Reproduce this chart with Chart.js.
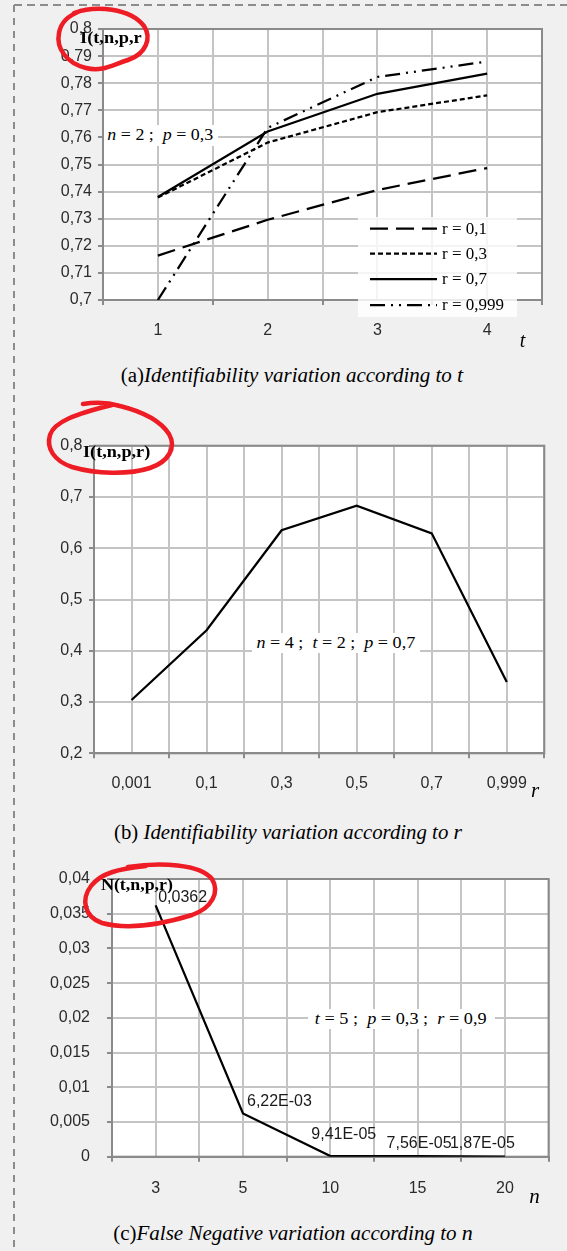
<!DOCTYPE html>
<html>
<head>
<meta charset="utf-8">
<script src="https://cdn.jsdelivr.net/npm/chart.js@4.4.1/dist/chart.umd.min.js"></script>
<style>
  html, body { margin: 0; padding: 0; background: #f0f0f0; }
  body { width: 567px; height: 1251px; position: relative; overflow: hidden; }
  .box { position: absolute; left: 0; width: 567px; }
  .txt { position: absolute; white-space: nowrap; line-height: 1; color: #000; }
  .serif { font-family: "Liberation Serif", "Times New Roman", serif; }
  #overlay { position: absolute; left: 0; top: 0; pointer-events: none; }
</style>
</head>
<body>
<div class="box" id="boxA" style="top:0px;height:360px"><canvas id="chartA"></canvas></div>
<div class="box" id="boxB" style="top:400px;height:400px"><canvas id="chartB"></canvas></div>
<div class="box" id="boxC" style="top:850px;height:370px"><canvas id="chartC"></canvas></div>

<script>
// ---------------- DATA ----------------
// (a) Identifiability vs t  (n = 2 ; p = 0,3)
const tValues = [1, 2, 3, 4];
const seriesLabelsA = ['r = 0,1', 'r = 0,3', 'r = 0,7', 'r = 0,999'];
const identR01  = [0.7164, 0.7296, 0.7406, 0.7487];
const identR03  = [0.7378, 0.7581, 0.7693, 0.7755];
const identR07  = [0.7380, 0.7622, 0.7761, 0.7835];
const identR999 = [0.7000, 0.7635, 0.7823, 0.7880];
const yTicksA = { min: 0.7, max: 0.8, step: 0.01 };

// (b) Identifiability vs r  (n = 4 ; t = 2 ; p = 0,7)
const rCategories = ['0,001', '0,1', '0,3', '0,5', '0,7', '0,999'];
const identByR = [0.304, 0.440, 0.635, 0.683, 0.629, 0.339];
const yTicksB = { min: 0.2, max: 0.8, step: 0.1 };

// (c) False negative vs n  (t = 5 ; p = 0,3 ; r = 0,9)
const nCategories = ['3', '5', '10', '15', '20'];
const falseNeg = [0.0362, 0.00622, 0.0000941, 0.0000756, 0.0000187];
const falseNegLabels = ['0,0362', '6,22E-03', '9,41E-05', '7,56E-05', '1,87E-05'];
const yTicksC = { min: 0, max: 0.04, step: 0.005 };

// ---------------- HELPERS ----------------
const fmt = v => String(Number(v.toFixed(4))).replace('.', ',');
const GRID = '#c4c4c4';
const AXIS = '#8a8a8a';
const TICKFONT = { family: '"Liberation Sans", Arial, sans-serif', size: 16 };

const framePlugin = {
  id: 'frame',
  beforeDraw(chart) {
    const a = chart.chartArea, c = chart.ctx;
    c.save(); c.fillStyle = '#fff'; c.fillRect(a.left, a.top, a.right - a.left, a.bottom - a.top); c.restore();
  },
  beforeDatasetsDraw(chart) {
    const a = chart.chartArea, c = chart.ctx;
    c.save(); c.strokeStyle = AXIS; c.lineWidth = 2;
    c.strokeRect(a.left, a.top, a.right - a.left, a.bottom - a.top); c.restore();
  }
};

const legendPlugin = {
  id: 'inLegend',
  afterDraw(chart, args, o) {
    if (!o || !o.box) return;
    const c = chart.ctx;
    c.save();
    c.fillStyle = 'rgba(255,255,255,0.82)';
    c.fillRect(o.box[0], o.box[1], o.box[2], o.box[3]);
    chart.data.datasets.forEach((ds, i) => {
      const y = o.rows[i];
      c.strokeStyle = '#000'; c.lineWidth = 2.25;
      c.setLineDash(ds.borderDash || []);
      c.beginPath(); c.moveTo(o.x0, y); c.lineTo(o.x1, y); c.stroke();
      c.setLineDash([]);
      c.fillStyle = '#000';
      c.font = '17px "Liberation Serif", "Times New Roman", serif';
      c.textBaseline = 'middle'; c.textAlign = 'left';
      c.fillText(ds.label, o.tx, y + 1);
    });
    c.restore();
  }
};

const dataLabelPlugin = {
  id: 'ptLabels',
  afterDatasetsDraw(chart, args, o) {
    if (!o || !o.texts) return;
    const meta = chart.getDatasetMeta(0), c = chart.ctx;
    c.save();
    c.font = '16px "Liberation Sans", Arial, sans-serif';
    c.fillStyle = '#1a1a1a'; c.textBaseline = 'middle'; c.textAlign = 'left';
    meta.data.forEach((pt, i) => {
      const off = o.offsets[i];
      c.fillText(o.texts[i], pt.x + off[0], pt.y + off[1]);
    });
    c.restore();
  }
};

function makeChart(id, cfg) {
  return new Chart(document.getElementById(id), {
    type: 'line',
    data: { datasets: cfg.datasets },
    plugins: [framePlugin, legendPlugin, dataLabelPlugin],
    options: {
      responsive: true, maintainAspectRatio: false, animation: false,
      layout: { padding: cfg.padding },
      plugins: {
        legend: { display: false }, tooltip: { enabled: false },
        inLegend: cfg.legend || {}, ptLabels: cfg.ptLabels || {}
      },
      elements: { point: { radius: 0 }, line: { tension: 0, borderWidth: 2.25, borderColor: '#000' } },
      scales: {
        x: {
          type: 'linear', min: cfg.xMin, max: cfg.xMax,
          afterFit: s => { s.height = cfg.xHeight; },
          border: { color: AXIS, width: 2 },
          grid: {
            color: GRID, lineWidth: 2, tickLength: 5,
            tickColor: ctx => (ctx.tick && !Number.isInteger(ctx.tick.value)) ? AXIS : 'rgba(0,0,0,0)',
            tickWidth: 2
          },
          ticks: {
            stepSize: 0.5, autoSkip: false, maxRotation: 0, color: '#2b2b2b', font: TICKFONT,
            padding: cfg.xPad,
            callback: v => Number.isInteger(v) ? cfg.xLabels[v - 1] : ''
          }
        },
        y: {
          type: 'linear', min: cfg.y.min, max: cfg.y.max,
          afterFit: s => { s.width = cfg.yWidth; },
          border: { color: AXIS, width: 2 },
          grid: { color: GRID, lineWidth: 2, tickLength: 5, tickColor: AXIS, tickWidth: 2 },
          ticks: { stepSize: cfg.y.step, color: '#2b2b2b', font: TICKFONT, padding: cfg.yPad, callback: v => fmt(v) }
        }
      }
    }
  });
}

// ---------------- CHART A ----------------
const dashA = [[18, 8], [5, 3], [], [15, 6, 2, 6, 2, 6]];
const seriesA = [identR01, identR03, identR07, identR999];
makeChart('chartA', {
  padding: { left: 0, right: 25, top: 29, bottom: 0 },
  xMin: 0.5, xMax: 4.5, xHeight: 60, yWidth: 103, xPad: 15.5, yPad: 6,
  xLabels: tValues.map(String), y: yTicksA,
  datasets: seriesA.map((vals, i) => ({
    label: seriesLabelsA[i],
    data: vals.map((v, j) => ({ x: tValues[j], y: v })),
    borderDash: dashA[i], borderColor: '#000', borderWidth: 2.25, fill: false
  })),
  legend: { box: [358, 217, 159, 100], x0: 370, x1: 437, tx: 442, rows: [228.5, 253.5, 279, 305] }
});

// ---------------- CHART B ----------------
makeChart('chartB', {
  padding: { left: 0, right: 22.7, top: 45.7, bottom: 0 },
  xMin: 0.5, xMax: rCategories.length + 0.5, xHeight: 46.7, yWidth: 94, xPad: 15.5, yPad: 6.5,
  xLabels: rCategories, y: yTicksB,
  datasets: [{ label: 'I', data: identByR.map((v, i) => ({ x: i + 1, y: v })), borderColor: '#000', borderWidth: 2.25 }]
});

// ---------------- CHART C ----------------
makeChart('chartC', {
  padding: { left: 0, right: 18.4, top: 29, bottom: 0 },
  xMin: 0.5, xMax: nCategories.length + 0.5, xHeight: 63.3, yWidth: 112, xPad: 17, yPad: 17,
  xLabels: nCategories, y: yTicksC,
  datasets: [{ label: 'N', data: falseNeg.map((v, i) => ({ x: i + 1, y: v })), borderColor: '#000', borderWidth: 2.25 }],
  ptLabels: { texts: falseNegLabels, offsets: [[2.5, -8], [4, -12], [-19, -21], [-31, -13], [-55, -13]] }
});

// ---------------- TEXT OVERLAYS ----------------
function addText(html, x, cy, css, center, sx) {
  const d = document.createElement('div');
  d.className = 'txt serif';
  d.innerHTML = html;
  d.style.left = x + 'px';
  d.style.top = cy + 'px';
  const s = sx || 1;
  if (center) {
    d.style.transform = 'translate(-50%,-50%) scaleX(' + s + ')';
  } else {
    d.style.transformOrigin = 'left center';
    d.style.transform = 'translateY(-50%) scaleX(' + s + ')';
  }
  d.style.cssText += css;
  document.body.appendChild(d);
}
// chart (a)
addText('I(t,n,p,r', 79.6, 37, 'font-size:17px;font-weight:bold;', false, 1.08);
addText('<i>n</i> = 2 ;&nbsp; <i>p</i> = 0,3', 104, 135, 'font-size:16px;background:#fff;padding:2px 3px;', false, 1.12);
addText('<i>t</i>', 522.6, 340, 'font-size:20px;', true);
addText('(a)<i>Identifiability variation according to </i><i style="font-size:21px">t</i>', 292, 375, 'font-size:20px;', true, 1.05);
// chart (b)
addText('I(t,n,p,r)', 82.5, 451, 'font-size:17px;font-weight:bold;', false, 1.07);
addText('<i>n</i> = 4 ;&nbsp; <i>t</i> = 2 ;&nbsp; <i>p</i> = 0,7', 252, 643.3, 'font-size:16px;background:#fff;padding:2px 4px;', false, 1.13);
addText('<i>r</i>', 535, 790, 'font-size:21px;', true);
addText('(b) <i>Identifiability variation according to </i><i style="font-size:21px">r</i>', 288, 832, 'font-size:20px;', true, 1.04);
// chart (c)
addText('N(t,n,p,r)', 101, 883.5, 'font-size:17px;font-weight:bold;', false, 1.05);
addText('<i>t</i> = 5 ;&nbsp; <i>p</i> = 0,3 ;&nbsp; <i>r</i> = 0,9', 308, 1019.3, 'font-size:16px;background:#fff;padding:2px 7px 2px 6px;', false, 1.14);
addText('<i>n</i>', 534.5, 1196, 'font-size:21px;', true);
addText('(c)<i>False Negative variation according to </i><i style="font-size:21px">n</i>', 292.6, 1233.3, 'font-size:20px;', true, 1.05);
</script>

<svg id="overlay" width="567" height="1251" xmlns="http://www.w3.org/2000/svg">
  <line x1="14" y1="5" x2="567" y2="5" stroke="#8c8c8c" stroke-width="2" stroke-dasharray="8 5"/>
  <line x1="14" y1="5" x2="14" y2="1251" stroke="#8c8c8c" stroke-width="2" stroke-dasharray="7 6"/>
  <g fill="none" stroke="#ee1c24" stroke-width="4.5" stroke-linecap="round" stroke-linejoin="round">
    <path d="M 74 13 C 96 5, 130 8, 144 26 C 152 38, 146 54, 128 60 C 112 65, 102 72, 86 68 C 66 63, 56 48, 59 33 C 61 22, 68 16, 80 11"/>
    <path d="M 83 404 C 95 402, 110 403, 120 406 C 140 411, 160 420, 169 434 C 177 448, 168 462, 150 468 C 128 475, 96 474, 72 467 C 54 461, 46 448, 50 435 C 54 422, 75 414, 112 405"/>
    <path d="M 128 867 C 160 862, 200 864, 212 879 C 220 892, 212 908, 192 915 C 166 923, 132 931, 102 923 C 84 917, 81 899, 91 886 C 101 873, 118 869, 146 866"/>
  </g>
</svg>
</body>
</html>
